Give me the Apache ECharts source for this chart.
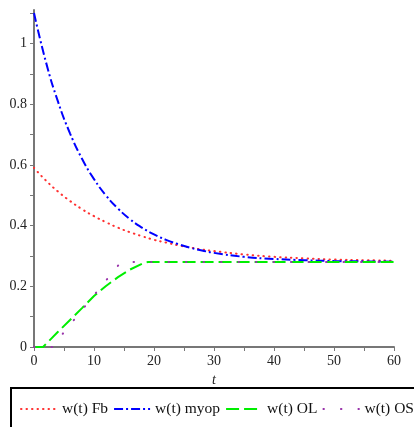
<!DOCTYPE html>
<html>
<head>
<meta charset="utf-8">
<script src="https://cdn.jsdelivr.net/npm/echarts@6/dist/echarts.min.js"></script>
<style>html,body{margin:0;padding:0;background:#fff}#c{width:414px;height:427px}</style>
</head>
<body>
<div id="c"></div>
<script>
// time grid for the exponential curves
var tExp = [0,2,4,6,8,10,12,14,16,18,20,22,24,26,28,30,35,40,45,50,55,60];
var wFb   = [0.590,0.548,0.512,0.481,0.454,0.431,0.411,0.393,0.378,0.365,0.353,0.344,0.335,0.328,0.321,0.316,0.305,0.297,0.292,0.288,0.286,0.284];
var wMyop = [1.100,0.938,0.808,0.704,0.620,0.553,0.499,0.456,0.421,0.393,0.371,0.353,0.339,0.327,0.318,0.310,0.297,0.290,0.286,0.283,0.282,0.281];
// open-loop curve
var tOL = [0,1.5,2,4,6,8,10,12,14,16,18,19,30,40,50,60];
var wOL = [0,0,0.010,0.050,0.089,0.128,0.168,0.201,0.230,0.255,0.274,0.280,0.280,0.280,0.280,0.280];
// OS curve
var tOS = [0,3,14.5,60];
var wOS = [0,0,0.280,0.280];
var yLabels = ['0','0.2','0.4','0.6','0.8','1'];
var names = ['w(t) Fb','w(t) myop','w(t) OL','w(t) OS'];

function pairs(t, w){ return t.map(function(v,i){ return [v, w[i]]; }); }

var chart = echarts.init(document.getElementById('c'));
var serif = 'Liberation Serif';
chart.setOption({
  animation: false,
  grid: {left: 34, right: 20, top: 10, bottom: 80},
  xAxis: {
    type: 'value', min: 0, max: 60, interval: 5,
    name: 't', nameLocation: 'middle', nameGap: 26,
    nameTextStyle: {fontFamily: serif, fontStyle: 'italic', fontSize: 14, color: '#222'},
    axisLine: {onZero: false, lineStyle: {color: '#777', width: 2}},
    axisTick: {show: true, length: 4, lineStyle: {color: '#777', width: 1}},
    axisLabel: {fontFamily: serif, fontSize: 14, color: '#222', margin: 7,
      formatter: function(v){ return (Math.round(v) % 10 === 0) ? String(v) : ''; }},
    splitLine: {show: false}
  },
  yAxis: {
    type: 'value', min: 0, max: 1.11, interval: 0.1,
    axisLine: {show: true, lineStyle: {color: '#777', width: 2}},
    axisTick: {show: true, length: 4, lineStyle: {color: '#777', width: 1}},
    axisLabel: {fontFamily: serif, fontSize: 14, color: '#222', margin: 7, showMaxLabel: false,
      formatter: function(v){ var k = Math.round(v*10); if (k % 2 !== 0 || k > 10) return ''; return yLabels[k/2]; }},
    splitLine: {show: false}
  },
  legend: {
    orient: 'horizontal', left: 20, top: 401, width: 410, padding: 0,
    itemWidth: 36, itemHeight: 14, itemGap: 5,
    itemStyle: {opacity: 0},
    textStyle: {fontFamily: serif, fontSize: 15.5, color: '#111'},
    data: names
  },
  graphic: [{type: 'rect', shape: {x: 11, y: 388, width: 430, height: 60},
    style: {fill: 'none', stroke: '#000', lineWidth: 2}, z: -1}],
  series: [
    {name: names[0], type: 'line', data: pairs(tExp, wFb), smooth: true, symbol: 'none',
      lineStyle: {color: '#ff3030', width: 2, type: [0.5, 5], cap: 'round'}, itemStyle: {color: '#ff3030'}},
    {name: names[1], type: 'line', data: pairs(tExp, wMyop), smooth: true, symbol: 'none',
      lineStyle: {color: '#0000ff', width: 2, type: [9, 3, 2, 3]}, itemStyle: {color: '#0000ff'}},
    {name: names[2], type: 'line', data: pairs(tOL, wOL), symbol: 'none',
      lineStyle: {color: '#00ee00', width: 2, type: [13, 5]}, itemStyle: {color: '#00ee00'}},
    {name: names[3], type: 'line', data: pairs(tOS, wOS), symbol: 'none',
      lineStyle: {color: '#9933aa', width: 2, type: [0.5, 17], cap: 'round'}, itemStyle: {color: '#9933aa'}}
  ]
});
</script>
</body>
</html>
